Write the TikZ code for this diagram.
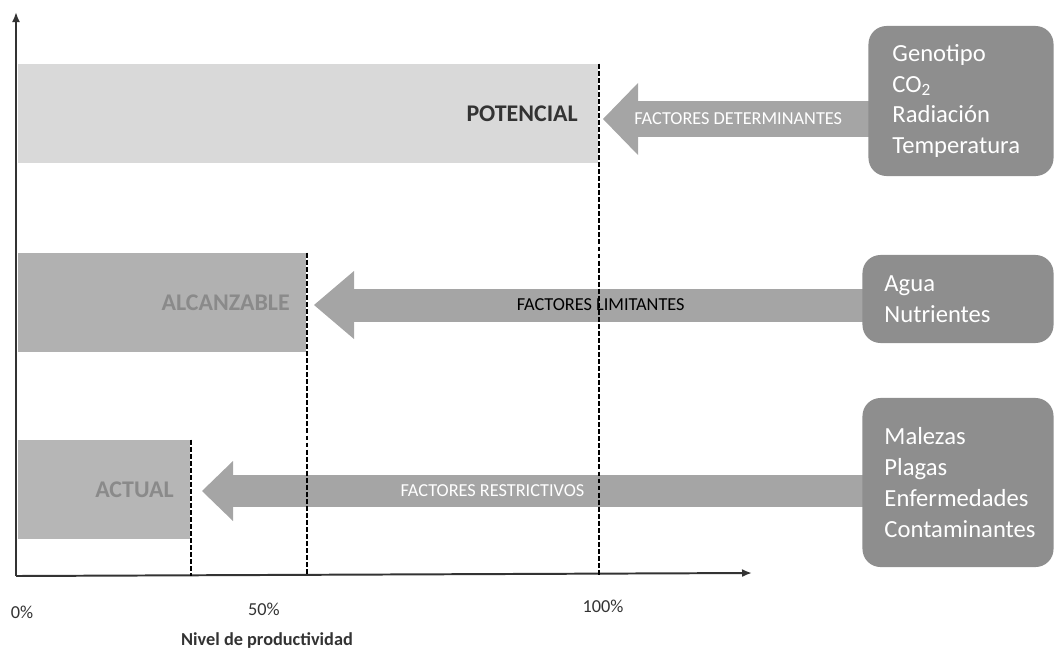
\documentclass[tikz,border=0pt]{standalone}
\usepackage{fontspec}
\setmainfont{Carlito}
\usetikzlibrary{arrows.meta, positioning, calc, backgrounds}
\definecolor{potgray}{HTML}{D9D9D9}
\definecolor{alcgray}{HTML}{B1B1B1}
\definecolor{actgray}{HTML}{B6B6B6}
\definecolor{arrowgray}{HTML}{A5A5A5}
\definecolor{boxgray}{HTML}{8E8E8E}
\definecolor{lblgray}{HTML}{8A8A8A}
\definecolor{axisgray}{HTML}{333333}

\begin{document}
\begin{tikzpicture}[x=0.025cm, y=-0.025cm,
    bar/.style={fill=#1, anchor=west, minimum height=2.475cm, inner sep=0pt},
    barlbl/.style={anchor=east, font=\fontsize{17}{20}\selectfont\bfseries},
    factbox/.style={fill=boxgray, rounded corners=0.45cm, text=white, align=left,
      inner xsep=0.55cm, font=\fontsize{17.5}{22}\selectfont},
    factarrow/.style n args={3}{draw=arrowgray, line width=#1, shorten <=-0.3cm,
      -{Triangle[length=#2, width=#3, line width=0pt 0]}},
    factlbl/.style={font=\fontsize{13}{15}\selectfont},
    guide/.style={line width=1.5pt, dash pattern=on 3.5pt off 1.5pt},
    axis/.style={line width=1.4pt, draw=axisgray, -{Latex[length=2.5mm, width=2mm]}},
    pct/.style={text=axisgray, font=\fontsize{13}{15}\selectfont}]
  \useasboundingbox (0,0) rectangle (1056,651);

  % Yield levels
  \node[bar=potgray, minimum width=14.5cm] (pot) at (18,113.5) {};
  \node[bar=alcgray, minimum width=7.2cm] (alc) at (18,302.5) {};
  \node[bar=actgray, minimum width=4.3cm] (act) at (18,489.5) {};
  \node[barlbl, text=axisgray, left=0.4cm of pot.east, anchor=east] (potlbl) {POTENCIAL};
  \node[barlbl, text=lblgray, left=0.3cm of alc.east, anchor=east] (alclbl) {ALCANZABLE};
  \node[barlbl, text=lblgray, left=0.3cm of act.east, anchor=east] (actlbl) {ACTUAL};

  % Factor groups
  \node[factbox, text width=3.425cm, minimum height=3.75cm, inner xsep=0.6cm] (det) at (961,101)
    {Genotipo\\CO\textsubscript{2}\\Radiación\\Temperatura};
  \node[factbox, text width=3.675cm, minimum height=2.2cm] (lim) at (958,299)
    {Agua\\Nutrientes};
  \node[factbox, text width=3.675cm, minimum height=4.225cm] (res) at (958,482.5)
    {Malezas\\Plagas\\Enfermedades\\Contaminantes};

  % Arrow tips
  \coordinate (tpot) at (603,119);
  \coordinate (talc) at (314,305);
  \coordinate (tact) at (202,491);

  \begin{scope}[on background layer]
    \draw[factarrow={0.875cm}{0.875cm}{1.8cm}] (det.west |- tpot) --
      node[factlbl, text=white, pos=0.49] {FACTORES DETERMINANTES} (tpot);
    \draw[factarrow={0.825cm}{1cm}{1.7cm}] (lim.west |- talc) --
      node[factlbl, text=black, pos=0.477] {FACTORES LIMITANTES} (talc);
    \draw[factarrow={0.8cm}{0.775cm}{1.5cm}] (res.west |- tact) --
      node[factlbl, text=white, pos=0.56] {FACTORES RESTRICTIVOS} (tact);
  \end{scope}

  % Axes
  \coordinate (o) at (16,576);
  \coordinate (ytop) at (16,12);
  \coordinate (xend) at (752,573);
  \draw[axis] (o) -- (ytop);
  \draw[axis] (o) -- (xend);

  % Level guides
  \draw[guide] (pot.north east) -- (pot.north east |- o);
  \draw[guide] (alc.north east) -- (alc.north east |- o);
  \draw[guide] (act.north east) -- (act.north east |- o);

  % Scale
  \node[pct] (p0) at (22,612) {0\%};
  \node[pct] (p50) at (264,609) {50\%};
  \node[pct] (p100) at (603,606) {100\%};
  \node[text=axisgray, font=\fontsize{13}{15}\selectfont\bfseries] (nivel) at (267,640) {Nivel de productividad};
\end{tikzpicture}
\end{document}
